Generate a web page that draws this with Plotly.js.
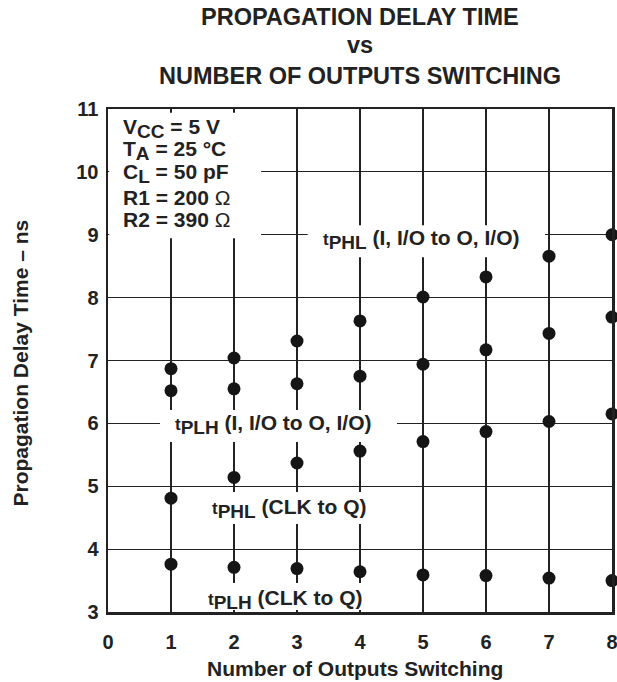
<!DOCTYPE html>
<html>
<head>
<meta charset="utf-8">
<script src="https://cdn.plot.ly/plotly-3.0.1.min.js"></script>
<style>html,body{margin:0;padding:0;background:#fff;}#chart{width:617px;height:682px;}</style>
</head>
<body>
<div id="chart"></div>
<script>
// ---- data ----
const outputs = [1, 2, 3, 4, 5, 6, 7, 8];
const tphlIO  = [6.87, 7.04, 7.31, 7.63, 8.01, 8.33, 8.66, 9.00];
const tplhIO  = [6.52, 6.55, 6.63, 6.75, 6.94, 7.17, 7.43, 7.69];
const tphlCLK = [4.81, 5.14, 5.37, 5.56, 5.71, 5.87, 6.03, 6.15];
const tplhCLK = [3.76, 3.71, 3.69, 3.64, 3.59, 3.58, 3.54, 3.50];
const xTickVals = [0, 1, 2, 3, 4, 5, 6, 7, 8];
const xTickText = ['0', '1', '2', '3', '4', '5', '6', '7', '8'];
const yTickVals = [3, 4, 5, 6, 7, 8, 9, 10, 11];
const yTickText = ['3', '4', '5', '6', '7', '8', '9', '10', '11'];
const titleLines = ['PROPAGATION DELAY TIME', 'vs', 'NUMBER OF OUTPUTS SWITCHING'];
const conditions = [
  'V<sub><span style="font-size:19px">CC</span></sub> = 5 V',
  'T<sub><span style="font-size:19px">A</span></sub> = 25 °C',
  'C<sub><span style="font-size:19px">L</span></sub> = 50 pF',
  'R1 = 200 <span style="font-weight:normal">Ω</span>',
  'R2 = 390 <span style="font-weight:normal">Ω</span>'
];
function tlabel(sub, rest) {
  return '<span style="font-size:17px">t</span><sub><span style="font-size:19px">' + sub + '</span></sub> ' + rest;
}

const ink = '#222';
const FONT = 'Liberation Sans, Arial, Helvetica, sans-serif';

function series(y) {
  return {x: outputs, y: y, type: 'scatter', mode: 'markers', cliponaxis: false,
          marker: {size: 13, color: '#151515'}, hoverinfo: 'skip'};
}
const traces = [series(tphlIO), series(tplhIO), series(tphlCLK), series(tplhCLK)];

function box(x0, x1, y0, y1) {
  return {type: 'rect', xref: 'x', yref: 'y', x0: x0, x1: x1, y0: y0, y1: y1,
          fillcolor: 'white', line: {width: 0}, layer: 'between'};
}
const shapes = [
  box(0.02, 2.43, 8.946, 10.94),
  box(3.17, 6.937, 8.644, 9.153),
  box(0.825, 4.587, 5.703, 6.211),
  box(1.30, 4.476, 4.399, 4.908),
  box(1.30, 4.476, 3.03, 3.461)
];

const annotations = [];
const titleY = [1.1825, 1.1276, 1.0656];
titleLines.forEach((t, i) => annotations.push({
  text: t, xref: 'paper', yref: 'paper', x: 0.5, y: titleY[i], xanchor: 'center', yanchor: 'middle',
  showarrow: false, font: {size: 23.5, family: FONT, color: ink, weight: 'bold'}
}));
const condY = [10.695, 10.345, 9.98, 9.598, 9.248];
conditions.forEach((t, i) => annotations.push({
  text: t, xref: 'x', yref: 'y', x: 0.206, y: condY[i], xanchor: 'left', yanchor: 'middle',
  showarrow: false, font: {size: 21, family: FONT, color: ink, weight: 'bold'}
}));
const labels = [
  {t: tlabel('PHL', '(I, I/O to O, I/O)'), x: 4.98, y: 8.92},
  {t: tlabel('PLH', '(I, I/O to O, I/O)'), x: 2.63, y: 5.98},
  {t: tlabel('PHL', '(CLK to Q)'), x: 2.87, y: 4.653},
  {t: tlabel('PLH', '(CLK to Q)'), x: 2.81, y: 3.191}
];
labels.forEach(l => annotations.push({
  text: l.t, xref: 'x', yref: 'y', x: l.x, y: l.y, xanchor: 'center', yanchor: 'middle',
  showarrow: false, font: {size: 21, family: FONT, color: ink, weight: 'bold'}
}));
annotations.push({
  text: 'Number of Outputs Switching', xref: 'paper', yref: 'paper', x: 0.49, y: -0.1133,
  xanchor: 'center', yanchor: 'middle', showarrow: false,
  font: {size: 21, family: FONT, color: ink, weight: 'bold'}
});
annotations.push({
  text: 'Propagation Delay Time – ns', xref: 'paper', yref: 'paper', x: -0.1736, y: 0.495,
  xanchor: 'center', yanchor: 'middle', textangle: -90, showarrow: false,
  font: {size: 21, family: FONT, color: ink, weight: 'bold'}
});

const axisCommon = {
  showgrid: true, gridcolor: ink, gridwidth: 1.2, showline: true, mirror: true,
  linecolor: ink, linewidth: 2.5, zeroline: false, ticks: '', fixedrange: true,
  ticklabeloverflow: 'allow',
  tickfont: {size: 20, family: FONT, color: ink, weight: 'bold'}
};

const layout = {
  width: 617, height: 682,
  margin: {l: 108, r: 5, t: 109, b: 70},
  paper_bgcolor: 'white', plot_bgcolor: 'white', showlegend: false,
  font: {family: FONT, color: ink},
  xaxis: Object.assign({}, axisCommon, {range: [0, 8], tickmode: 'array', tickvals: xTickVals, ticktext: xTickText, ticklabelstandoff: 10}),
  yaxis: Object.assign({}, axisCommon, {range: [3, 11], tickmode: 'array', tickvals: yTickVals, ticktext: yTickText, ticklabelstandoff: 3}),
  shapes: shapes,
  annotations: annotations
};

Plotly.newPlot('chart', traces, layout, {staticPlot: true, displayModeBar: false});
</script>
</body>
</html>
